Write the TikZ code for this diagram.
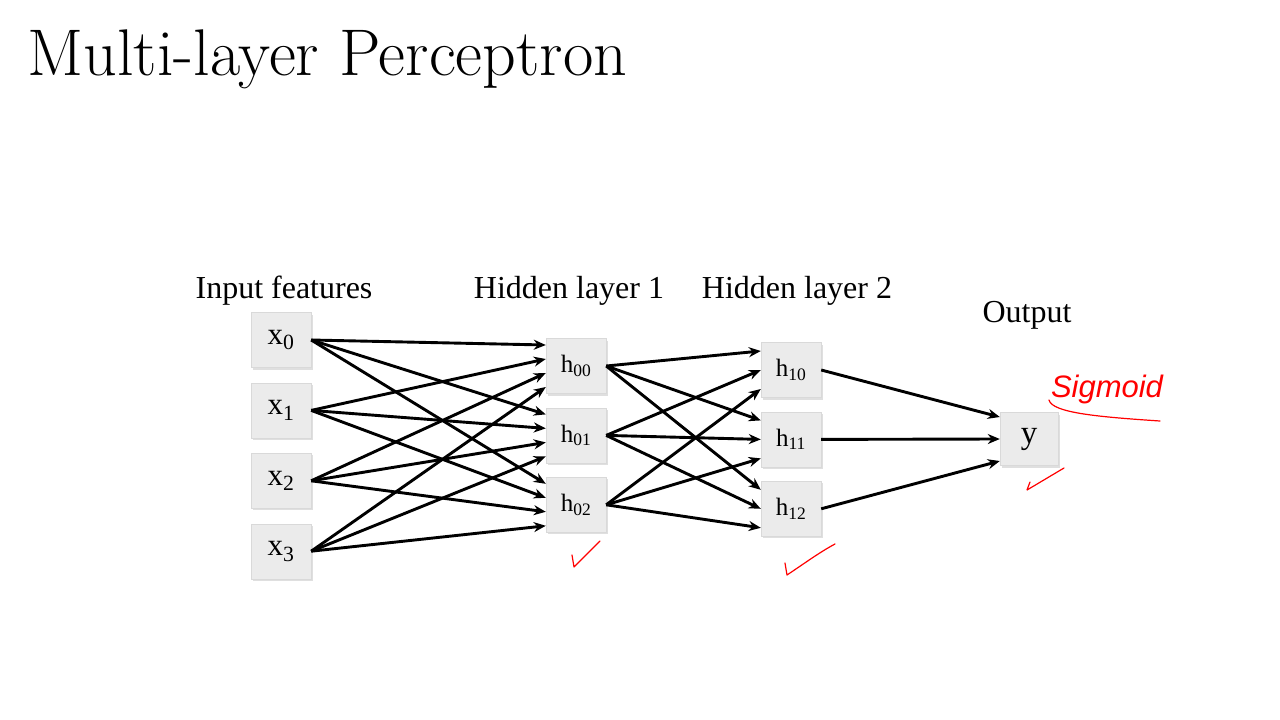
\documentclass[tikz,border=0pt]{standalone}
\usepackage{fontspec}
\newfontfamily\diagfont{Liberation Serif}
\newfontfamily\handfont{Liberation Sans}
\usepackage{tikz}
\usetikzlibrary{arrows.meta,positioning,shadows}

\begin{document}
\begin{tikzpicture}[x=1pt,y=-1pt,>={Stealth[length=12pt,width=10pt]},
  unit/.style={draw=black!15,fill=black!8,minimum width=60pt,minimum height=55pt,inner sep=0pt,
    drop shadow={opacity=0.25,shadow xshift=1.5pt,shadow yshift=-2pt},font=\diagfont\fontsize{31}{31}\selectfont},
  hid/.style={unit,font=\diagfont\fontsize{25}{25}\selectfont},
  outu/.style={unit,minimum width=58pt,minimum height=53pt,font=\diagfont\fontsize{33}{33}\selectfont},
  lbl/.style={anchor=base,font=\diagfont\fontsize{32}{32}\selectfont},
  a/.style={->,line width=2.9pt},
  note/.style={red,line width=1.2pt,line cap=round,line join=round}]
  \useasboundingbox (0,0) rectangle (1280,720);
  \node[anchor=base west,font=\fontsize{66}{72}\selectfont] (title) at (24,75) {Multi-layer Perceptron};
  % input layer
  \node[unit] (x0) at (281,340) {x\textsubscript{0}};
  \node[unit,below=15pt of x0] (x1) {x\textsubscript{1}};
  \node[unit,below=15pt of x1] (x2) {x\textsubscript{2}};
  \node[unit,below=15pt of x2] (x3) {x\textsubscript{3}};
  % hidden layers
  \node[hid] (h00) at (576,366) {h\textsubscript{00}};
  \node[hid,below=14pt of h00] (h01) {h\textsubscript{01}};
  \node[hid,below=14pt of h01] (h02) {h\textsubscript{02}};
  \node[hid] (h10) at (791,370) {h\textsubscript{10}};
  \node[hid,below=14pt of h10] (h11) {h\textsubscript{11}};
  \node[hid,below=14pt of h11] (h12) {h\textsubscript{12}};
  \node[outu] (y) at (1029,439) {y};
  % layer titles
  \node[lbl] (tin) at (284,298) {Input features};
  \node[lbl] (th1) at (569,298) {Hidden layer 1};
  \node[lbl] (th2) at (797,298) {Hidden layer 2};
  \node[lbl] (tout) at (1027,322) {Output};
  % connections
  \draw[a] (x0.east) -- ([yshift=21pt]h00.west); \draw[a] (x0.east) -- ([yshift=21pt]h01.west); \draw[a] (x0.east) -- ([yshift=21pt]h02.west);
  \draw[a] (x1.east) -- ([yshift=7pt]h00.west); \draw[a] (x1.east) -- ([yshift=7pt]h01.west); \draw[a] (x1.east) -- ([yshift=7pt]h02.west);
  \draw[a] (x2.east) -- ([yshift=-7pt]h00.west); \draw[a] (x2.east) -- ([yshift=-7pt]h01.west); \draw[a] (x2.east) -- ([yshift=-7pt]h02.west);
  \draw[a] (x3.east) -- ([yshift=-21pt]h00.west); \draw[a] (x3.east) -- ([yshift=-21pt]h01.west); \draw[a] (x3.east) -- ([yshift=-21pt]h02.west);
  \draw[a] (h00.east) -- ([yshift=19pt]h10.west); \draw[a] (h00.east) -- ([yshift=19pt]h11.west); \draw[a] (h00.east) -- ([yshift=19pt]h12.west);
  \draw[a] (h01.east) -- (h10.west); \draw[a] (h01.east) -- (h11.west); \draw[a] (h01.east) -- (h12.west);
  \draw[a] (h02.east) -- ([yshift=-19pt]h10.west); \draw[a] (h02.east) -- ([yshift=-19pt]h11.west); \draw[a] (h02.east) -- ([yshift=-19pt]h12.west);
  \draw[a] (h10.east) -- ([yshift=22pt]y.west); \draw[a] (h11.east) -- (y.west); \draw[a] (h12.east) -- ([yshift=-22pt]y.west);
  % red notes
  \node[red,font=\handfont\itshape\fontsize{31}{31}\selectfont] (sig) at (1107,389) {Sigmoid};
  \draw[note] (1049,400) .. controls (1052,413) and (1100,417) .. (1160,421);
  \draw[note] (572,555) -- (574,567) -- (600,541);
  \draw[note] (785,563) -- (787,575) .. controls (805,563) and (820,552) .. (835,544);
  \draw[note] (1030,482) -- (1027,490) -- (1064,468);
\end{tikzpicture}
\end{document}
